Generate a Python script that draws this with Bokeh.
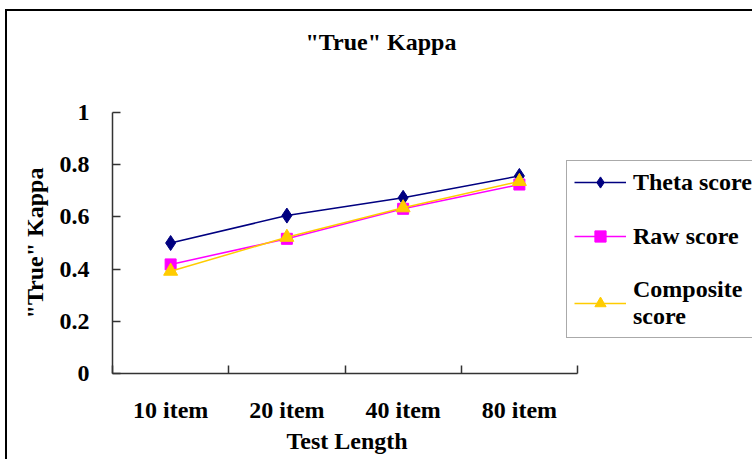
from bokeh.plotting import figure
from bokeh.models import Range1d, FixedTicker, Legend, LegendItem, LinearAxis, Title
from bokeh.embed import file_html
from bokeh.resources import INLINE

# ---- data ----
categories = ["10 item", "20 item", "40 item", "80 item"]
theta_score = [0.50, 0.605, 0.673, 0.757]
raw_score = [0.418, 0.516, 0.631, 0.724]
composite_score = [0.392, 0.522, 0.635, 0.736]
y_ticks = [0, 0.2, 0.4, 0.6, 0.8, 1]
y_tick_labels = ["0", "0.2", "0.4", "0.6", "0.8", "1"]

FONT = "Liberation Serif"
FS = "24px"
AXIS_COLOR = "#333333"

# layout (pixels)
W, H = 747, 450
LEFT, TOP, BOTTOM = 107, 103, 86
AXIS_PX = 465                      # width of the category axis
FRAME_PX = W - LEFT                # frame runs to the right edge (legend overflows)
n = len(categories)
centers = [i + 0.5 for i in range(n)]
bounds = list(range(0, n + 1))

p = figure(width=W, height=H,
           x_range=Range1d(0, n * FRAME_PX / AXIS_PX), y_range=Range1d(0, 1),
           output_backend="svg", toolbar_location=None,
           min_border_left=LEFT, min_border_right=0, min_border_top=TOP,
           min_border_bottom=BOTTOM)
xax = p.below[0]
yax = p.left[0]
p.styles = {"margin-left": "5px", "margin-top": "9px",
            "box-shadow": "inset 2px 2px 0 0 #000000"}
p.outline_line_color = None
p.xgrid.visible = False
p.ygrid.visible = False
p.background_fill_color = "white"
p.border_fill_alpha = 0
p.title.text = ""
p.title.visible = False

# invisible spacer axis above the frame, then the chart title
spacer = LinearAxis(ticker=FixedTicker(ticks=[0], minor_ticks=[]),
                    axis_line_color=None, major_tick_line_color=None,
                    minor_tick_line_color=None, major_tick_in=0, major_tick_out=58,
                    minor_tick_in=0, minor_tick_out=0, major_label_standoff=0,
                    major_label_overrides={0: ""},
                    major_label_text_font_size="1px")
p.add_layout(spacer, "above")
p.add_layout(Title(text='"True" Kappa', text_font=FONT, text_font_style="bold",
                   text_font_size=FS, text_color="black", align="left",
                   offset=193, standoff=0), "above")

# y axis
yax.ticker = FixedTicker(ticks=y_ticks, minor_ticks=[])
yax.major_label_overrides = {t: l for t, l in zip(y_ticks, y_tick_labels)}
yax.major_tick_in = 8
yax.major_tick_out = 0
yax.minor_tick_line_color = None
yax.major_label_standoff = 23
yax.axis_label = '"True" Kappa'
yax.axis_label_standoff = 9

# x axis (categories at centres, tick marks at category boundaries)
xax.bounds = (0, n)
xax.ticker = FixedTicker(ticks=centers, minor_ticks=bounds)
xax.major_label_overrides = {c: lab for c, lab in zip(centers, categories)}
xax.major_tick_line_color = None
xax.major_tick_in = 0
xax.major_tick_out = 0
xax.minor_tick_line_color = AXIS_COLOR
xax.minor_tick_line_width = 1.5
xax.minor_tick_in = 8
xax.minor_tick_out = 0
xax.major_label_standoff = 23

for ax in (xax, yax):
    ax.axis_line_color = AXIS_COLOR
    ax.axis_line_width = 1.5
    if ax is yax:
        ax.major_tick_line_color = AXIS_COLOR
        ax.major_tick_line_width = 1.5
    ax.major_label_text_font = FONT
    ax.major_label_text_font_style = "bold"
    ax.major_label_text_font_size = FS
    ax.major_label_text_color = "black"
    ax.axis_label_text_font = FONT
    ax.axis_label_text_font_style = "bold"
    ax.axis_label_text_font_size = FS
    ax.axis_label_text_color = "black"

# x axis title, centred under the category axis
p.add_layout(Title(text="Test Length", text_font=FONT, text_font_style="bold",
                   text_font_size=FS, text_color="black", align="left",
                   offset=174, standoff=0), "below")

# series
series = [
    ("Theta score", theta_score, "#000080", "diamond", 15),
    ("Raw score", raw_score, "#FF00FF", "square", 11),
    ("Composite\nscore", composite_score, "#FFCC00", "triangle", 14),
]
items = []
for label, vals, color, marker, size in series:
    r1 = p.line(centers, vals, line_color=color, line_width=1.5)
    r2 = p.scatter(centers, vals, marker=marker, size=size,
                   fill_color=color, line_color=color)
    items.append(LegendItem(label=label, renderers=[r1, r2]))

legend = Legend(items=items, location=(454, 35))
legend.label_text_font = FONT
legend.label_text_font_style = "bold"
legend.label_text_font_size = FS
legend.label_text_color = "black"
legend.glyph_width = 52
legend.glyph_height = 28
legend.label_standoff = 7
legend.padding = 7
legend.margin = 0
legend.spacing = 26
legend.border_line_color = "#555555"
legend.border_line_width = 1.5
legend.background_fill_color = "white"
legend.background_fill_alpha = 1
p.add_layout(legend, "center")

open("out.html", "w").write(file_html(p, INLINE))
